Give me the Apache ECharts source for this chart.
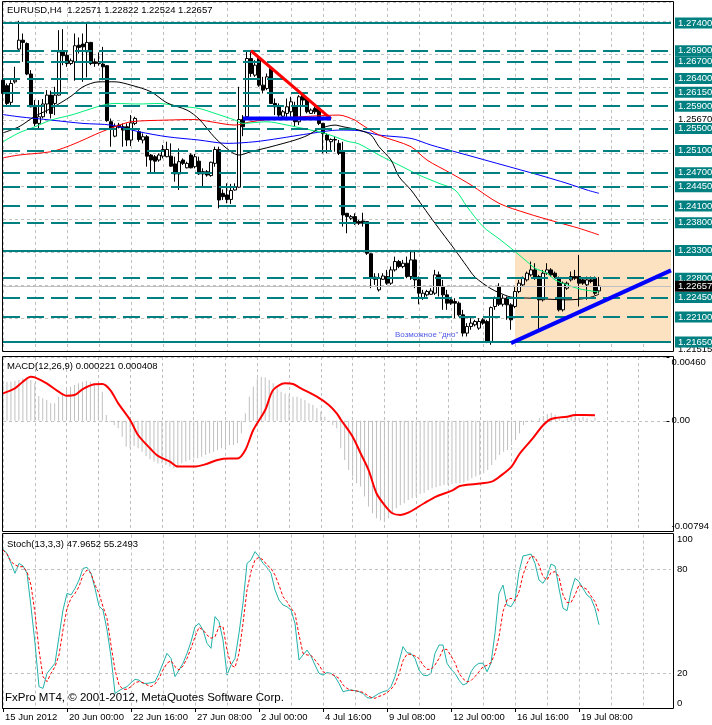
<!DOCTYPE html>
<html><head><meta charset="utf-8">
<script src="https://cdn.jsdelivr.net/npm/echarts@6/dist/echarts.min.js"></script>
<style>html,body{margin:0;padding:0;background:#fff;}#c{width:712px;height:725px;}</style>
</head><body><div id="c"></div>
<script>
// ---------- DATA ----------
const tickLabels = ['15 Jun 2012','20 Jun 00:00','22 Jun 16:00','27 Jun 08:00','2 Jul 00:00','4 Jul 16:00','9 Jul 08:00','12 Jul 00:00','16 Jul 16:00','19 Jul 08:00'];
const slotCount = 168;
const categories = Array.from({length: slotCount}, (_, i) => String(i));

const opens = [1.2637,1.2627,1.2597,1.2634,1.2693,1.2709,1.2703,1.2648,1.2588,1.2559,
1.2571,1.2594,1.2610,1.2595,1.2610,1.2688,1.2682,1.2667,1.2670,1.2700,
1.2702,1.2688,1.2705,1.2670,1.2667,1.2666,1.2663,1.2562,1.2536,1.2556,
1.2553,1.2553,1.2529,1.2559,1.2544,1.2529,1.2535,1.2502,1.2499,1.2493,
1.2500,1.2499,1.2500,1.2486,1.2468,1.2493,1.2479,1.2502,1.2481,1.2491,
1.2472,1.2472,1.2465,1.2487,1.2512,1.2433,1.2430,1.2422,1.2439,1.2444,
1.2566,1.2571,1.2676,1.2646,1.2676,1.2628,1.2622,1.2658,1.2595,1.2589,
1.2572,1.2577,1.2580,1.2589,1.2562,1.2610,1.2604,1.2577,1.2586,1.2586,
1.2559,1.2538,1.2526,1.2530,1.2523,1.2508,1.2397,1.2388,1.2391,1.2382,
1.2383,1.2382,1.2324,1.2282,1.2259,1.2278,1.2283,1.2271,1.2295,1.2310,
1.2301,1.2307,1.2283,1.2313,1.2277,1.2244,1.2250,1.2251,1.2253,1.2286,
1.2265,1.2250,1.2241,1.2238,1.2235,1.2214,1.2181,1.2193,1.2196,1.2190,
1.2205,1.2202,1.2166,1.2229,1.2265,1.2233,1.2244,1.2232,1.2229,1.2256,
1.2268,1.2277,1.2286,1.2295,1.2283,1.2241,1.2289,1.2295,1.2289,1.2280,
1.2223,1.2262,1.2277,1.2283,1.2283,1.2277,1.2268,1.2277,1.2280,1.22571];
const closes = [1.2613,1.2595,1.2631,1.2637,1.2709,1.2705,1.2648,1.2589,1.2559,1.2571,
1.2594,1.2610,1.2577,1.2610,1.2688,1.2681,1.2667,1.2672,1.2699,1.2696,
1.2697,1.2705,1.2667,1.2667,1.2670,1.2661,1.2564,1.2550,1.2554,1.2552,
1.2547,1.2529,1.2560,1.2568,1.2530,1.2535,1.2500,1.2493,1.2491,1.2502,
1.2512,1.2512,1.2482,1.2468,1.2490,1.2487,1.2487,1.2479,1.2499,1.2468,
1.2468,1.2466,1.2489,1.2512,1.2421,1.2427,1.2422,1.2438,1.2445,1.2566,
1.2553,1.2676,1.2649,1.2664,1.2628,1.2619,1.2643,1.2595,1.2589,1.2574,
1.2580,1.2589,1.2598,1.2562,1.2607,1.2601,1.2580,1.2583,1.2580,1.2559,
1.2541,1.2529,1.2530,1.2529,1.2505,1.2394,1.2391,1.2391,1.2379,1.2379,
1.2379,1.2325,1.2280,1.2278,1.2280,1.2284,1.2271,1.2295,1.2310,1.2301,
1.2307,1.2283,1.2313,1.2277,1.2253,1.2253,1.2256,1.2257,1.2286,1.2265,
1.2250,1.2235,1.2235,1.2235,1.2214,1.2181,1.2193,1.2199,1.2202,1.2202,
1.2199,1.2166,1.2227,1.2244,1.2233,1.2244,1.2232,1.2205,1.2256,1.2271,
1.2280,1.2289,1.2295,1.2280,1.2241,1.2289,1.2295,1.2286,1.2283,1.2223,
1.2271,1.2271,1.2283,1.2280,1.2271,1.2271,1.2277,1.2274,1.2253,1.22657];
const highs = [1.2640,1.2631,1.2637,1.2661,1.2744,1.2721,1.2705,1.2655,1.2601,1.2601,
1.2603,1.2619,1.2618,1.2625,1.2727,1.2729,1.2688,1.2676,1.2721,1.2714,
1.2721,1.2742,1.2706,1.2676,1.2687,1.2697,1.2664,1.2568,1.2559,1.2560,
1.2559,1.2559,1.2574,1.2571,1.2547,1.2541,1.2538,1.2504,1.2502,1.2505,
1.2520,1.2526,1.2523,1.2499,1.2514,1.2496,1.2490,1.2505,1.2504,1.2499,
1.2478,1.2475,1.2490,1.2517,1.2517,1.2440,1.2451,1.2450,1.2451,1.2625,
1.2574,1.2691,1.2691,1.2673,1.2679,1.2643,1.2649,1.2661,1.2604,1.2595,
1.2583,1.2604,1.2607,1.2598,1.2610,1.2613,1.2607,1.2586,1.2595,1.2589,
1.2560,1.2541,1.2532,1.2535,1.2529,1.2526,1.2397,1.2394,1.2397,1.2385,
1.2398,1.2382,1.2325,1.2289,1.2289,1.2289,1.2295,1.2301,1.2319,1.2313,
1.2313,1.2319,1.2331,1.2331,1.2283,1.2259,1.2259,1.2262,1.2295,1.2292,
1.2277,1.2259,1.2244,1.2244,1.2238,1.2223,1.2199,1.2208,1.2205,1.2208,
1.2208,1.2205,1.2229,1.2247,1.2271,1.2250,1.2247,1.2235,1.2265,1.2277,
1.2283,1.2292,1.2310,1.2307,1.2286,1.2295,1.2307,1.2298,1.2292,1.2283,
1.2274,1.2274,1.2292,1.2295,1.2322,1.2280,1.2283,1.2283,1.2283,1.22822];
const lows = [1.2590,1.2589,1.2589,1.2631,1.2691,1.2670,1.2646,1.2588,1.2554,1.2550,
1.2568,1.2577,1.2568,1.2574,1.2609,1.2664,1.2661,1.2664,1.2636,1.2685,
1.2634,1.2642,1.2664,1.2661,1.2663,1.2637,1.2562,1.2517,1.2534,1.2550,
1.2517,1.2518,1.2518,1.2556,1.2526,1.2523,1.2481,1.2468,1.2469,1.2490,
1.2496,1.2498,1.2481,1.2454,1.2439,1.2484,1.2478,1.2478,1.2478,1.2466,
1.2445,1.2463,1.2463,1.2481,1.2406,1.2421,1.2415,1.2414,1.2438,1.2443,
1.2536,1.2568,1.2643,1.2643,1.2625,1.2613,1.2619,1.2594,1.2574,1.2570,
1.2565,1.2568,1.2571,1.2554,1.2556,1.2592,1.2577,1.2576,1.2576,1.2556,
1.2505,1.2505,1.2511,1.2508,1.2502,1.2373,1.2361,1.2385,1.2376,1.2376,
1.2373,1.2322,1.2262,1.2268,1.2256,1.2277,1.2268,1.2268,1.2292,1.2298,
1.2298,1.2280,1.2277,1.2262,1.2233,1.2241,1.2247,1.2250,1.2250,1.2247,
1.2223,1.2223,1.2232,1.2208,1.2211,1.2175,1.2175,1.2187,1.2193,1.2187,
1.2196,1.2163,1.2160,1.2223,1.2230,1.2229,1.2205,1.2187,1.2226,1.2253,
1.2265,1.2274,1.2283,1.2277,1.2187,1.2238,1.2286,1.2283,1.2280,1.2220,
1.2220,1.2259,1.2274,1.2277,1.2229,1.2268,1.2241,1.2271,1.2250,1.22524];

// moving averages read at selected bars: [bar, price]
const maBlack = [[0,1.2542],[4,1.2553],[8,1.2572],[12,1.2586],[17,1.2608],[20,1.2625],[24,1.2634],[28,1.2634],[32,1.2628],[37,1.2616],[41,1.2596],[46,1.2583],[49,1.2567],[53,1.2533],[57,1.2508],[59,1.2502],[62,1.2508],[67,1.2517],[73,1.2529],[76,1.2537],[79,1.2549],[83,1.2556],[85,1.2553],[89,1.2547],[92,1.2538],[94,1.2517],[97,1.2493],[99,1.2463],[102,1.2439],[105,1.2409],[108,1.2379],[113,1.2331],[116,1.2301],[118,1.2282],[122,1.2261],[124,1.2254],[127,1.2246],[132,1.2244],[141,1.2241],[146,1.2244],[149,1.2251]];
const maGreen = [[0,1.2526],[4,1.2542],[8,1.2553],[12,1.2565],[17,1.2574],[21,1.2583],[25,1.2592],[28,1.2595],[34,1.2594],[39,1.2595],[44,1.2590],[49,1.2586],[53,1.2577],[58,1.2565],[60,1.2559],[62,1.2560],[66,1.2562],[71,1.2556],[75,1.2550],[80,1.2542],[83,1.2535],[86,1.2527],[89,1.2522],[94,1.2502],[99,1.2484],[104,1.2466],[109,1.2451],[113,1.2439],[116,1.2409],[120,1.2373],[124,1.2351],[127,1.2334],[131,1.2310],[133,1.2298],[136,1.2289],[138,1.2277],[141,1.2268],[144,1.2261],[148,1.2256],[149,1.2255]];
const maRed = [[0,1.2497],[4,1.2502],[12,1.2508],[16,1.2517],[20,1.2529],[24,1.2542],[28,1.2553],[32,1.2562],[41,1.2565],[48,1.2566],[52,1.2562],[58,1.2556],[62,1.2562],[69,1.2568],[77,1.2572],[84,1.2574],[88,1.2565],[89,1.2560],[94,1.2538],[102,1.2517],[106,1.2493],[112,1.2469],[117,1.2448],[124,1.2415],[131,1.2397],[138,1.2382],[144,1.2370],[149,1.2358]];
const maBlue = [[0,1.2575],[4,1.2571],[12,1.2565],[20,1.2559],[27,1.2556],[34,1.2544],[41,1.2535],[49,1.2529],[56,1.2523],[63,1.2526],[69,1.2532],[77,1.2541],[84,1.2547],[89,1.2546],[94,1.2538],[102,1.2532],[107,1.2520],[114,1.2506],[122,1.2490],[128,1.2478],[134,1.2466],[141,1.2451],[146,1.2439],[149,1.2433]];

// drawn objects
const redTrend = [[62,1.2690],[82,1.2567]];
const blueFlat = [[60,1.2568],[82,1.2568]];
const blueRise = [[127,1.2163],[167,1.2294]];
const boxBars = [128, 167];
const boxPrices = [1.2330, 1.2165];
const levelPrices = [1.2740,1.2690,1.2670,1.2640,1.2615,1.2590,1.2550,1.2510,1.2470,1.2445,1.2410,1.2380,1.2330,1.2280,1.2245,1.2210,1.2165];
const solidLevels = [1.2740,1.2330,1.2165];
const gridPriceLabels = [1.25670, 1.21515];
const bidPrice = 1.22657;
const noteText = 'Возможное "дно"';
const notePoint = [98, 1.2178];

// MACD(12,26,9)
const macdHist = [0.00282,0.00282,0.00282,0.00289,0.00294,0.00306,0.00306,0.00294,0.00270,0.00179,
0.00162,0.00150,0.00126,0.00126,0.00174,0.00203,0.00227,0.00246,0.00258,0.00270,
0.00282,0.00289,0.00282,0.00270,0.00258,0.00210,0.00042,-0.00006,-0.00030,-0.00054,
-0.00114,-0.00186,-0.00198,-0.00181,-0.00198,-0.00222,-0.00253,-0.00277,-0.00294,-0.00306,
-0.00306,-0.00318,-0.00330,-0.00342,-0.00330,-0.00306,-0.00294,-0.00282,-0.00270,-0.00270,
-0.00258,-0.00246,-0.00234,-0.00222,-0.00210,-0.00198,-0.00186,-0.00174,-0.00174,-0.00162,
-0.00090,0.00054,0.00174,0.00246,0.00306,0.00318,0.00313,0.00294,0.00270,0.00234,
0.00210,0.00198,0.00186,0.00174,0.00174,0.00162,0.00150,0.00126,0.00114,0.00090,
0.00066,0.00030,-0.00004,-0.00030,-0.00054,-0.00198,-0.00282,-0.00354,-0.00402,-0.00450,
-0.00474,-0.00546,-0.00618,-0.00666,-0.00702,-0.00719,-0.00726,-0.00702,-0.00666,-0.00630,
-0.00606,-0.00594,-0.00570,-0.00558,-0.00546,-0.00527,-0.00518,-0.00498,-0.00486,-0.00479,
-0.00470,-0.00462,-0.00462,-0.00455,-0.00450,-0.00450,-0.00445,-0.00431,-0.00414,-0.00402,
-0.00390,-0.00378,-0.00354,-0.00318,-0.00282,-0.00246,-0.00222,-0.00210,-0.00174,-0.00138,
-0.00090,-0.00030,-0.00006,0.00006,0.00001,0.00018,0.00035,0.00049,0.00059,0.00042,
0.00018,0.00006,0.00018,0.00030,0.00035,0.00018,0.00030,0.00018,0.00006,0.000221];
const macdSignal = [[0,0.00198],[3,0.00234],[5,0.00282],[7,0.00318],[8,0.00313],[11,0.00270],[14,0.00210],[16,0.00181],[18,0.00186],[20,0.00227],[23,0.00263],[25,0.00265],[27,0.00222],[29,0.00126],[32,0.00006],[34,-0.00102],[37,-0.00198],[39,-0.00253],[42,-0.00294],[44,-0.00330],[48,-0.00330],[51,-0.00313],[54,-0.00282],[57,-0.00272],[59,-0.00272],[61,-0.00210],[63,-0.00066],[66,0.00078],[68,0.00222],[71,0.00270],[73,0.00265],[75,0.00234],[79,0.00174],[82,0.00114],[84,0.00054],[85,0.00010],[88,-0.00114],[90,-0.00234],[92,-0.00354],[94,-0.00522],[96,-0.00606],[98,-0.00666],[100,-0.00678],[102,-0.00662],[106,-0.00594],[109,-0.00546],[113,-0.00503],[115,-0.00470],[119,-0.00455],[123,-0.00438],[125,-0.00402],[128,-0.00330],[130,-0.00239],[133,-0.00138],[136,-0.00030],[138,0.00013],[142,0.00030],[144,0.00042],[149,0.000408]];
const macdTicks = [0.0046, 0, -0.00794];

// Stochastic(13,3,3)
const stochMain = [91.5,89.2,83.4,77.7,83.4,81.9,77.7,58.4,37.3,12.3,
11.3,20.0,22.9,25.8,41.1,56.5,66.1,65.2,69.0,73.8,
80.5,81.1,77.7,69.0,58.8,56.5,45.0,29.6,8.4,10.0,
11.3,12.3,14.6,16.5,16.1,14.2,14.2,14.6,15.2,20.0,
25.8,31.5,28.6,18.1,21.9,25.8,31.5,38.2,46.9,48.8,
45.0,37.3,34.4,52.7,49.8,39.2,19.0,24.8,28.6,43.1,
60.4,83.4,85.4,90.2,87.3,83.4,81.1,77.7,68.1,62.3,
59.4,58.4,56.5,48.8,27.7,30.6,33.4,30.0,24.8,20.0,
19.0,20.4,20.0,18.1,14.2,9.4,10.0,10.4,10.0,9.4,
8.4,6.0,5.6,6.9,8.4,9.4,10.0,12.3,18.1,26.7,
35.4,31.9,31.5,28.6,21.9,19.0,18.6,20.0,31.5,36.3,
36.3,25.8,22.3,20.0,16.1,13.3,14.2,20.9,24.2,25.8,
25.8,20.9,25.8,43.1,66.1,70.9,59.4,58.4,62.3,78.6,
87.7,88.2,88.8,83.4,73.8,71.9,75.7,83.0,81.9,69.0,
57.5,56.1,67.1,74.8,72.9,69.0,65.2,63.3,57.5,47.9652];
const stochSignal = [91.1,88.8,84.4,82.5,81.5,81.5,78.6,70.9,54.6,33.4,
18.1,15.2,20.0,23.8,30.6,45.0,57.5,63.3,66.1,70.0,
76.7,79.6,77.7,70.9,66.1,58.4,51.7,36.3,21.9,13.3,
10.8,10.8,12.3,14.6,15.2,14.6,13.3,12.3,13.8,17.1,
21.9,25.8,27.3,23.8,21.9,24.2,28.6,34.4,41.1,46.5,
45.0,42.1,40.2,41.1,46.9,46.9,33.4,24.8,23.4,31.5,
48.8,68.1,78.6,85.4,86.9,85.4,82.5,80.5,76.7,70.9,
64.2,61.3,57.5,54.6,42.1,31.5,30.6,30.4,27.7,24.8,
20.9,20.0,19.6,18.6,17.1,13.3,11.3,10.2,10.0,9.6,
9.0,7.5,6.1,5.6,6.7,7.5,8.8,10.8,13.8,19.6,
27.3,31.1,30.9,30.0,28.6,24.8,22.3,22.3,24.8,28.6,
33.8,33.8,30.0,26.1,20.0,16.9,15.0,15.8,18.1,20.9,
23.8,24.6,26.1,31.5,41.1,55.6,62.3,63.3,61.9,67.1,
76.7,83.4,87.7,86.9,82.5,75.7,73.8,78.1,78.6,75.7,
65.2,60.8,60.8,65.2,70.9,69.6,68.4,64.6,61.3,55.2493];
const stochLabelValues = [0, 20, 80, 100];
const stochLevels = [20, 80];

// ---------- CHART ----------
const FONT = '"Liberation Sans", Arial, sans-serif';
const GRAY = '#C0C0C0';
const TEAL = '#008080';
const candleData = opens.map((o, i) => [o, closes[i], lows[i], highs[i]]);
const tickEvery = 16;
const showTick = (i) => i % tickEvery === 0 && i < opens.length;

function xAxisFor(gi, labels) {
  return {
    type: 'category', gridIndex: gi, data: categories, boundaryGap: false,
    axisLine: {show: labels, lineStyle: {color: '#000'}},
    axisTick: {show: labels, interval: showTick, length: 4, lineStyle: {color: '#000'}},
    axisLabel: {show: labels, interval: showTick, align: 'left', margin: 4, padding: [0,0,0,2],
      fontSize: 9.5, fontFamily: FONT, color: '#000',
      formatter: (v, i) => tickLabels[Math.round(i / tickEvery)] || ''},
    splitLine: {show: true, interval: 7, lineStyle: {color: GRAY, type: [3, 3], width: 1}}
  };
}

const pMin = 1.214878, pMax = 1.277785;

const levelItems = levelPrices.map(p => ({
  yAxis: p,
  lineStyle: {color: TEAL, width: 2, type: solidLevels.includes(p) ? 'solid' : [17, 7]},
  label: {show: true, position: 'end', distance: 4, formatter: () => p.toFixed(5),
    backgroundColor: TEAL, color: '#fff', fontSize: 9.5, fontFamily: FONT,
    padding: [1, 4, 0, 3], lineHeight: 10}
}));
levelItems.push({
  yAxis: bidPrice,
  lineStyle: {color: GRAY, width: 1, type: 'solid'},
  label: {show: true, position: 'end', distance: 4, formatter: () => bidPrice.toFixed(5),
    backgroundColor: '#000', color: '#fff', fontSize: 9.5, fontFamily: FONT, padding: [1, 4, 0, 3], lineHeight: 10}
});
const gridLabelItems = gridPriceLabels.map(p => ({
  yAxis: p,
  lineStyle: {color: 'rgba(0,0,0,0)', width: 1, type: 'solid'},
  label: {show: true, position: 'end', distance: 4, formatter: () => p.toFixed(5),
    color: '#000', fontSize: 9.5, fontFamily: FONT, padding: [0, 0, 0, 3]}
}));

const option = {
  animation: false,
  backgroundColor: '#fff',
  grid: [
    {left: 3, width: 668, top: 2, height: 349},
    {left: 3, width: 668, top: 357, height: 174},
    {left: 3, width: 668, top: 534.6, height: 173.4}
  ],
  xAxis: [xAxisFor(0, false), xAxisFor(1, false), xAxisFor(2, true)],
  yAxis: [
    {type: 'value', gridIndex: 0, min: pMin, max: pMax, show: false, splitLine: {show: false}},
    {type: 'value', gridIndex: 0, min: 0, max: 10.598, interval: 1, position: 'right',
      axisLine: {show: false}, axisTick: {show: false}, axisLabel: {show: false},
      splitLine: {show: true, lineStyle: {color: GRAY, type: [3, 3]}}},
    {type: 'value', gridIndex: 1, min: macdTicks[2], max: macdTicks[0], interval: -macdTicks[2], position: 'right',
      axisLine: {show: false}, axisTick: {show: true, length: 3, lineStyle: {color: '#000'}},
      axisLabel: {margin: 5, fontSize: 9.5, fontFamily: FONT, color: '#000',
        verticalAlignMaxLabel: 'top', verticalAlignMinLabel: 'bottom',
        formatter: v => (v === 0 ? '0.00' : v.toFixed(5))},
      splitLine: {show: true, lineStyle: {color: GRAY, type: [3, 3]}}},
    {type: 'value', gridIndex: 2, min: 0, max: 100, interval: 20, position: 'right',
      axisLine: {show: false}, axisTick: {show: false},
      axisLabel: {margin: 6, fontSize: 9.5, fontFamily: FONT, color: '#000',
        verticalAlignMaxLabel: 'top', verticalAlignMinLabel: 'bottom',
        formatter: v => (stochLabelValues.includes(v) ? String(v) : '')},
      splitLine: {show: false}}
  ],
  series: [
    {type: 'line', xAxisIndex: 0, yAxisIndex: 0, data: [], z: -1, silent: true,
      markArea: {silent: true, itemStyle: {color: '#FDE2C2'},
        data: [[{xAxis: boxBars[0], yAxis: boxPrices[0]}, {xAxis: boxBars[1], yAxis: boxPrices[1]}]]}},
    {type: 'line', xAxisIndex: 0, yAxisIndex: 0, data: [], z: 0, silent: true,
      markLine: {silent: true, symbol: ['none', 'none'], precision: 5, data: gridLabelItems}},
    {type: 'line', xAxisIndex: 0, yAxisIndex: 0, data: [], z: 1, silent: true,
      markLine: {silent: true, symbol: ['none', 'none'], precision: 5, data: levelItems}},
    {type: 'candlestick', xAxisIndex: 0, yAxisIndex: 0, data: candleData, barWidth: 3, clip: false, z: 3,
      itemStyle: {color: '#fff', color0: '#000', borderColor: '#000', borderColor0: '#000', borderWidth: 1}},
    {type: 'line', xAxisIndex: 0, yAxisIndex: 0, data: maBlue, symbol: 'none', smooth: 0.3, z: 4, silent: true, lineStyle: {color: '#0000FF', width: 1}},
    {type: 'line', xAxisIndex: 0, yAxisIndex: 0, data: maRed, symbol: 'none', smooth: 0.3, z: 4, silent: true, lineStyle: {color: '#FF0000', width: 1}},
    {type: 'line', xAxisIndex: 0, yAxisIndex: 0, data: maGreen, symbol: 'none', smooth: 0.3, z: 4, silent: true, lineStyle: {color: '#00F07A', width: 1}},
    {type: 'line', xAxisIndex: 0, yAxisIndex: 0, data: maBlack, symbol: 'none', smooth: 0.3, z: 4, silent: true, lineStyle: {color: '#000', width: 1}},
    {type: 'line', xAxisIndex: 0, yAxisIndex: 0, data: redTrend, symbol: 'none', z: 5, silent: true, lineStyle: {color: '#FF0000', width: 3}},
    {type: 'line', xAxisIndex: 0, yAxisIndex: 0, data: blueFlat, symbol: 'none', z: 5, silent: true, lineStyle: {color: '#0000FF', width: 4}},
    {type: 'line', xAxisIndex: 0, yAxisIndex: 0, data: blueRise, symbol: 'none', z: 5, silent: true, clip: false, lineStyle: {color: '#0000FF', width: 4}},
    {type: 'scatter', xAxisIndex: 0, yAxisIndex: 0, data: [notePoint], symbolSize: 0, z: 6, silent: true,
      itemStyle: {color: 'rgba(0,0,0,0)'},
      label: {show: true, position: 'right', distance: 0, formatter: noteText, color: '#2030E0', fontSize: 8, fontFamily: FONT}},
    {type: 'bar', xAxisIndex: 1, yAxisIndex: 2, data: macdHist, barWidth: 1, silent: true, itemStyle: {color: GRAY}},
    {type: 'line', xAxisIndex: 1, yAxisIndex: 2, data: macdSignal, symbol: 'none', smooth: 0.3, silent: true, z: 4, lineStyle: {color: '#FF0000', width: 2}},
    {type: 'line', xAxisIndex: 2, yAxisIndex: 3, data: stochMain, symbol: 'none', silent: true, z: 4, lineStyle: {color: '#20B2AA', width: 1},
      markLine: {silent: true, symbol: ['none', 'none'], label: {show: false},
        lineStyle: {color: GRAY, type: [3, 3], width: 1}, data: stochLevels.map(v => ({yAxis: v}))}},
    {type: 'line', xAxisIndex: 2, yAxisIndex: 3, data: stochSignal, symbol: 'none', silent: true, z: 4, lineStyle: {color: '#FF0000', width: 1, type: [3, 2]}}
  ],
  graphic: [
    {type: 'rect', z: 100, silent: true, shape: {x: 2.5, y: 1.5, width: 671, height: 350}, style: {fill: null, stroke: '#000', lineWidth: 1}},
    {type: 'rect', z: 100, silent: true, shape: {x: 2.5, y: 356.5, width: 671, height: 175}, style: {fill: null, stroke: '#000', lineWidth: 1}},
    {type: 'rect', z: 100, silent: true, shape: {x: 2.5, y: 533.5, width: 671, height: 175}, style: {fill: null, stroke: '#000', lineWidth: 1}},
    {type: 'text', z: 100, silent: true, left: 7, top: 5, style: {text: 'EURUSD,H4  1.22571 1.22822 1.22524 1.22657', fill: '#000', font: '9.5px ' + FONT}},
    {type: 'text', z: 100, silent: true, left: 7, top: 361, style: {text: 'MACD(12,26,9) 0.000221 0.000408', fill: '#000', font: '9.5px ' + FONT}},
    {type: 'text', z: 100, silent: true, left: 7, top: 539, style: {text: 'Stoch(13,3,3) 47.9652 55.2493', fill: '#000', font: '9.5px ' + FONT}},
    {type: 'text', z: 100, silent: true, left: 5, top: 692, style: {text: 'FxPro MT4, © 2001-2012, MetaQuotes Software Corp.', fill: '#000', font: '11.5px ' + FONT}}
  ]
};

const chart = echarts.init(document.getElementById('c'), null, {renderer: 'canvas', width: 712, height: 725});
chart.setOption(option);
</script>
</body></html>
